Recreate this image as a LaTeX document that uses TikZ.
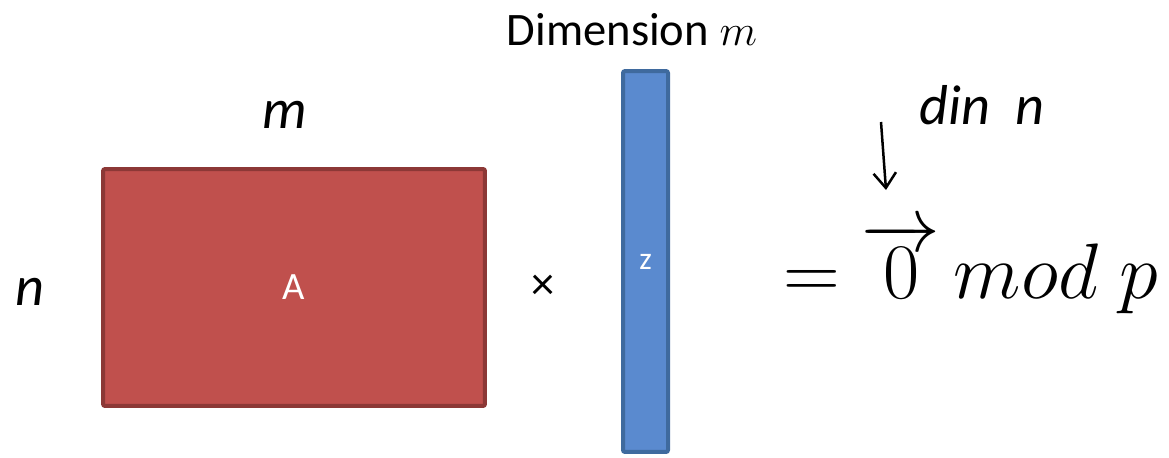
\documentclass[tikz,border=0pt]{standalone}
\usepackage{fontspec}
\usepackage{graphicx}
\setmainfont{Carlito}
\usetikzlibrary{arrows.meta}
\definecolor{matred}{HTML}{C0504D}
\definecolor{matredline}{HTML}{8C3836}
\definecolor{vecblue}{HTML}{5A8ACF}
\definecolor{vecblueline}{HTML}{3F6A9E}
\begin{document}
\begin{tikzpicture}[
    x=0.02cm, y=-0.02cm,
    matrixbox/.style={rectangle, draw=matredline, fill=matred, line width=0.08cm, rounded corners=0.04cm,
        minimum width=7.64cm, minimum height=4.74cm, text=white, font=\fontsize{22}{26}\selectfont},
    vectorbox/.style={rectangle, draw=vecblueline, fill=vecblue, line width=0.08cm, rounded corners=0.04cm,
        minimum width=0.9cm, minimum height=7.62cm, inner sep=0pt, text=white, font=\fontsize{18}{22}\selectfont},
    hand/.style={font=\fontsize{32}{36}\selectfont\itshape, inner sep=0pt},
    label/.style={font=\fontsize{26.5}{31}\selectfont, inner sep=0pt},
    handarrow/.style={-{Straight Barb[length=0.3cm, width=0.45cm]}, line width=0.05cm}
]
\useasboundingbox (0,0) rectangle (1169,457);

% Matrix and vector
\node[matrixbox] (A) at (294,287.5) {A};
\node[vectorbox] (z) at (645.5,261.5) {z};
\node[label] (times) at (543,287) {×};

% Labels
\node[label] (dim) at (632,30) {Dimension $m$};
\node[hand] (m) at (285,115) {m};
\node[hand] (n) at (30,292) {n};
\node[hand] (din) at (982,105) {din\ \ n};

% Result
\node[font=\fontsize{24.88}{30}\selectfont, inner sep=0pt] (res) at (971,268)
    {\scalebox{1.8}{$=\overrightarrow{0}\,mod\;p$}};

% Hand arrow
\coordinate (arrtop) at (881,122);
\coordinate (arrbot) at (886,190);
\draw[handarrow] (arrtop) -- (arrbot);

\end{tikzpicture}
\end{document}
